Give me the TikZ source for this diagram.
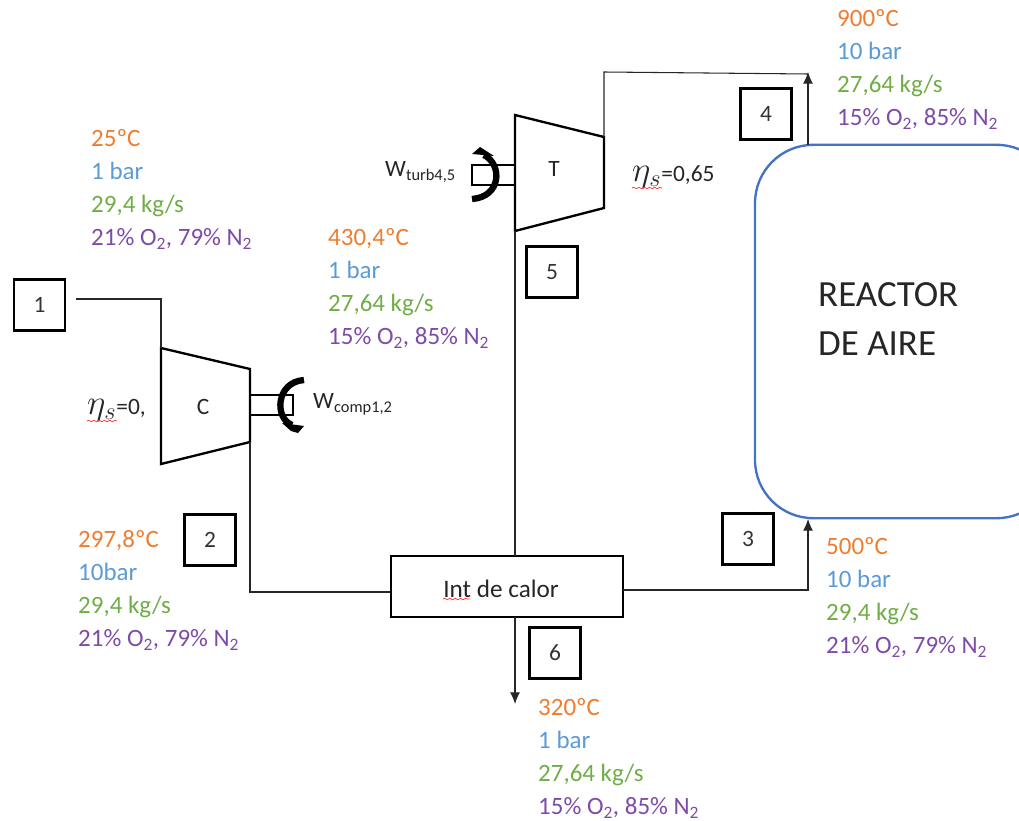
\documentclass[tikz,border=0pt]{standalone}
\usepackage{fontspec}
\usepackage{graphicx}
\setmainfont{Carlito}
\usetikzlibrary{arrows.meta,decorations.pathmorphing}
\definecolor{tempcol}{HTML}{ED7D31}
\definecolor{prescol}{HTML}{5B9BD5}
\definecolor{flowcol}{HTML}{70AD47}
\definecolor{compcol}{HTML}{7E4BA8}
\definecolor{reactcol}{HTML}{4472C4}
\newcommand{\statetext}[4]{\textcolor{tempcol}{#1}\\\textcolor{prescol}{#2}\\\textcolor{flowcol}{#3}\\\textcolor{compcol}{#4}}
\newcommand{\airmix}{21\% O\textsubscript{2}, 79\% N\textsubscript{2}}
\newcommand{\fluemix}{15\% O\textsubscript{2}, 85\% N\textsubscript{2}}
\newcommand{\etasymb}{\scalebox{1.45}{$\eta_s$}}
\tikzset{
  numbox/.style={draw,line width=2pt,minimum width=1.53cm,minimum height=1.53cm,inner sep=0pt,font=\fontsize{20}{24}\selectfont,text=black!80},
  statebox/.style={anchor=north west,align=left,inner sep=0pt,font=\fontsize{21.3}{28.2}\selectfont},
  machine/.style={draw,line width=2pt,line join=miter},
  pipe/.style={draw,line width=0.9pt,black!85},
  arrowpipe/.style={pipe,-{Latex[length=10pt,width=8.5pt]}},
  shaft/.style={draw,line width=1.8pt},
  torque/.style={line width=5.4pt,black},
  plain/.style={inner sep=0pt,font=\fontsize{20}{24}\selectfont,text=black!85},
  squiggle/.style={red!80,line width=0.6pt,decorate,decoration={snake,amplitude=0.7pt,segment length=4.5pt}}
}
\begin{document}
\begin{tikzpicture}[x=0.03cm,y=-0.03cm]
  \useasboundingbox (0,0) rectangle (1019,821);

  \node[draw=reactcol,line width=2pt,rounded corners=1.75cm,minimum width=9cm,minimum height=11.2cm] (reactor) at (905,331.5) {};
  \node[plain,anchor=north west,align=left,font=\fontsize{31.5}{42}\selectfont] (reactorname) at (818,282.5) {REACTOR\\DE AIRE};

  \coordinate (c1) at (161,348);
  \coordinate (c2) at (250,369);
  \coordinate (c3) at (250,442);
  \coordinate (c4) at (161,464);
  \draw[machine] (c1) -- (c2) -- (c3) -- (c4) -- cycle;
  \node[plain] (compname) at (203,407) {C};

  \coordinate (t1) at (515,115);
  \coordinate (t2) at (604,137);
  \coordinate (t3) at (604,208);
  \coordinate (t4) at (515,231);
  \draw[machine] (t1) -- (t2) -- (t3) -- (t4) -- cycle;
  \node[plain] (turbname) at (554,169) {T};

  \node[draw,line width=1.8pt,minimum width=6.96cm,minimum height=1.83cm] (hx) at (507,586.5) {};
  \node[plain,font=\fontsize{21.5}{26}\selectfont] (hxname) at (501,589) {Int de calor};
  \draw[squiggle] (443,599) -- (470,599);

  \node[numbox] (n1) at (39.5,305) {1};
  \node[numbox] (n2) at (210,540) {2};
  \node[numbox] (n3) at (748,539) {3};
  \node[numbox] (n4) at (766,114) {4};
  \node[numbox] (n5) at (552,272) {5};
  \node[numbox] (n6) at (555,653) {6};

  \coordinate (in1) at (76,299);
  \coordinate (bend1) at (161,299);
  \coordinate (bend2) at (250,592);
  \coordinate (hxin) at (390,592);
  \coordinate (hxout) at (623,590);
  \coordinate (bend3) at (808,590);
  \coordinate (re3) at (808,519);
  \coordinate (bend4) at (604,72);
  \coordinate (top4) at (808,74);
  \coordinate (tip4) at (808,72);
  \coordinate (re4) at (808,145);
  \coordinate (hxtop) at (515,556);
  \coordinate (hxbot) at (515,617);
  \coordinate (out6) at (515,704);

  \draw[pipe] (in1) -- (bend1) -- (c1);
  \draw[pipe] (c3) -- (bend2) -- (hxin);
  \draw[arrowpipe] (hxout) -- (bend3) -- (re3);
  \draw[pipe] (t2) -- (bend4) -- (top4);
  \draw[arrowpipe] (re4) -- (tip4);
  \draw[pipe] (t4) -- (hxtop);
  \draw[arrowpipe] (hxbot) -- (out6);

  \draw[shaft] (250,395) rectangle (293,415);
  \draw[torque] (304,380) .. controls (276,382) and (274,418) .. (292,425);
  \fill (282,423) -- (304,426) -- (298,433) -- (291,431) -- cycle;
  \node[plain,anchor=west] (wcomp) at (313,404) {W\textsubscript{comp1,2}};

  \draw[shaft] (472,165) rectangle (515,185);
  \draw[torque] (472,199) .. controls (501,197) and (503,165) .. (484,155);
  \fill (472,154) -- (480,147) -- (494,156) -- cycle;
  \node[plain,anchor=east] (wturb) at (456,172) {W\textsubscript{turb4,5}};

  \node[plain,anchor=west] (etac) at (87,410) {\etasymb=0,};
  \draw[squiggle] (87,421) -- (117,421);
  \node[plain,anchor=west] (etat) at (632,177) {\etasymb=0,65};
  \draw[squiggle] (632,188) -- (662,188);

  \node[statebox] (state1) at (91,129) {\statetext{25ºC}{1 bar}{29,4 kg/s}{\airmix}};
  \node[statebox] (state2) at (78,530) {\statetext{297,8ºC}{10bar}{29,4 kg/s}{\airmix}};
  \node[statebox] (state3) at (826,537) {\statetext{500ºC}{10 bar}{29,4 kg/s}{\airmix}};
  \node[statebox] (state4) at (837,9) {\statetext{900ºC}{10 bar}{27,64 kg/s}{\fluemix}};
  \node[statebox] (state5) at (328,228) {\statetext{430,4ºC}{1 bar}{27,64 kg/s}{\fluemix}};
  \node[statebox] (state6) at (538,698) {\statetext{320ºC}{1 bar}{27,64 kg/s}{\fluemix}};
\end{tikzpicture}
\end{document}
